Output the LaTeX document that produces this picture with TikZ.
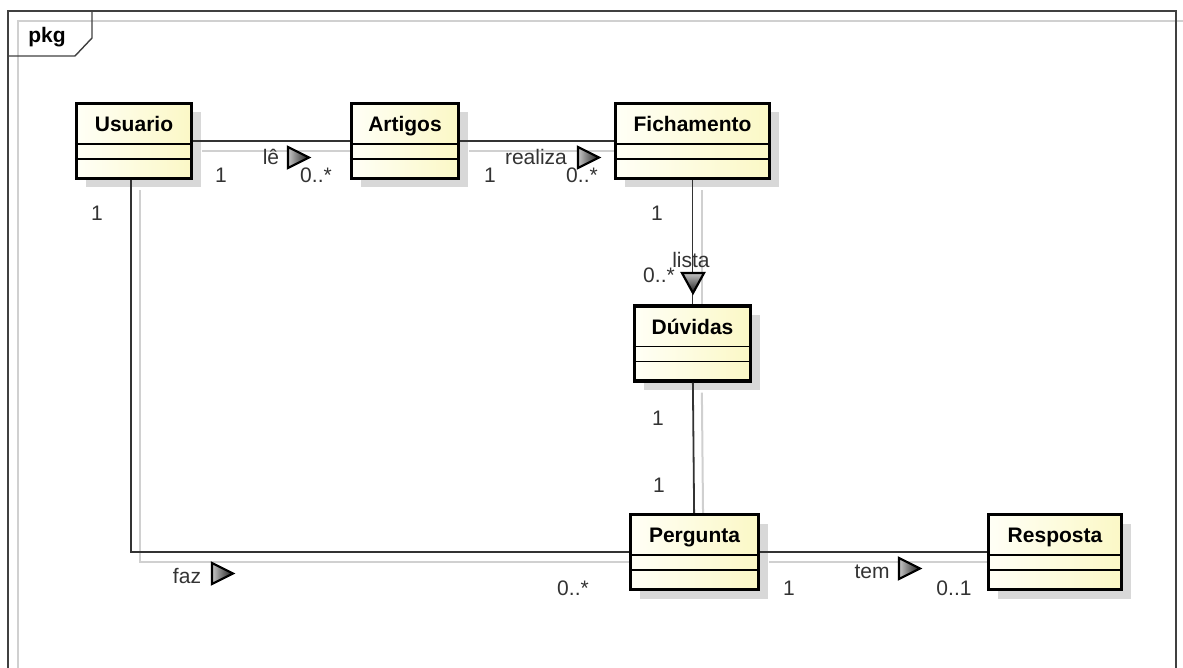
\documentclass[tikz,border=0pt]{standalone}
\usepackage{fontspec}
\setmainfont{Liberation Sans}
\usepackage{xcolor}
\usepackage{tikz}
\usetikzlibrary{positioning}
\usetikzlibrary{shadows,backgrounds}

\definecolor{clslight}{HTML}{FFFFF6}
\definecolor{clsdark}{HTML}{FBF8C6}
\definecolor{boxshade}{HTML}{D8D8D8}
\definecolor{lineshade}{HTML}{D0D0D0}
\definecolor{ink}{HTML}{333333}

\begin{document}
\begin{tikzpicture}
                [x=0.5pt, y=-0.5pt,
                 cls/.style = {draw, line width=1.6pt, minimum height=37.5pt, inner sep=0pt, left color=clslight, right color=clsdark, drop shadow={shadow xshift=4.5pt, shadow yshift=-4.5pt, fill=boxshade, opacity=1}},
                 clsname/.style = {font=\fontsize{10.5}{12.6}\selectfont\bfseries, anchor=base, inner sep=0pt},
                 sep/.style = {line width=0.8pt},
                 assoc/.style = {line width=0.9pt, draw=black!80},
                 lnshadow/.style = {line width=1pt, draw=lineshade},
                 lbl/.style = {font=\fontsize{10.5}{12.6}\selectfont, text=ink, anchor=base, inner sep=0pt},
                 dirtri/.style = {draw=black, line width=1.1pt, line join=miter, left color=gray!45, right color=black!90},
                 frame/.style = {draw=black!75, line width=0.7pt}]
                \useasboundingbox (0,0) rectangle (1183,668);
                % Package frame
                \draw[lnshadow] (18,21) rectangle (1188,690);
                \draw[frame] (8,11) rectangle (1176,680);
                \draw[frame] (8,56) -- (75,56) -- (92,38) -- (92,11);
                \node[clsname] (pkg) at (47,43) {pkg};
                % Classes
                \node[cls, minimum width=57.5pt] (usr) at (134,141) {};
                \node[cls, minimum width=53.5pt] (art) at (405,141) {};
                \node[cls, minimum width=77pt] (fich) at (692.5,141) {};
                \node[cls, minimum width=58pt] (duv) at (692.5,343.5) {};
                \node[cls, minimum width=64pt] (perg) at (694.5,552) {};
                \node[cls, minimum width=66.5pt] (resp) at (1055,552) {};
                % Class names
                \node[clsname] (usrname) at ([yshift=-15pt]usr.north) {Usuario};
                \node[clsname] (artname) at ([yshift=-15pt]art.north) {Artigos};
                \node[clsname] (fichname) at ([yshift=-15pt]fich.north) {Fichamento};
                \node[clsname] (duvname) at ([yshift=-15pt]duv.north) {Dúvidas};
                \node[clsname] (pergname) at ([yshift=-15pt]perg.north) {Pergunta};
                \node[clsname] (respname) at ([yshift=-15pt]resp.north) {Resposta};
                % Compartments
                \foreach \c in {usr, art, fich, duv, perg, resp} {
                    \draw[sep] ([yshift=-21pt]\c.north west) -- ([yshift=-21pt]\c.north east);
                    \draw[sep] ([yshift=-28.5pt]\c.north west) -- ([yshift=-28.5pt]\c.north east);
                }
                % Associations
                \draw[assoc] (usr) -- (art);
                \draw[assoc] (art) -- (fich);
                \draw[assoc] (fich) -- (duv);
                \draw[assoc] (duv) -- (perg);
                \draw[assoc] ([xshift=-1.5pt]usr.south) |- (perg);
                \draw[assoc] (perg) -- (resp);
                \begin{scope}[on background layer]
                  \begin{scope}[transform canvas={xshift=4.5pt, yshift=-5pt}]
                    \draw[lnshadow] (usr) -- (art);
                    \draw[lnshadow] (art) -- (fich);
                    \draw[lnshadow] (fich) -- (duv);
                    \draw[lnshadow] (duv) -- (perg);
                    \draw[lnshadow] ([xshift=-1.5pt]usr.south) |- (perg);
                    \draw[lnshadow] (perg) -- (resp);
                  \end{scope}
                \end{scope}
                % Multiplicities and names
                \node[lbl] (ua1) at (221,183) {1};
                \node[lbl] (uatxt) at (271,165) {lê};
                \node[lbl] (ua2) at (316,183) {0..*};
                \node[lbl] (af1) at (490,183) {1};
                \node[lbl] (aftxt) at (536,165) {realiza};
                \node[lbl] (af2) at (582,183) {0..*};
                \node[lbl] (fd1) at (657,221) {1};
                \node[lbl] (fdtxt) at (691,268) {lista};
                \node[lbl] (fd2) at (659,283) {0..*};
                \node[lbl] (dp1) at (658,425) {1};
                \node[lbl] (dp2) at (659,492) {1};
                \node[lbl] (up1) at (97,221) {1};
                \node[lbl] (uptxt) at (187,583) {faz};
                \node[lbl] (up2) at (573,595) {0..*};
                \node[lbl] (pr1) at (789,595) {1};
                \node[lbl] (prtxt) at (872,578) {tem};
                \node[lbl] (pr2) at (954,595) {0..1};
                % Reading direction
                \path[dirtri] (288,147) -- (309,157.5) -- (288,168) -- cycle;
                \path[dirtri] (578,147) -- (599,157.5) -- (578,168) -- cycle;
                \path[dirtri, top color=gray!45, bottom color=black!90] (682,273) -- (704,273) -- (693,293) -- cycle;
                \path[dirtri] (212,563) -- (233,573.5) -- (212,584) -- cycle;
                \path[dirtri] (899,558) -- (920,568.5) -- (899,579) -- cycle;
            \end{tikzpicture}
\end{document}
